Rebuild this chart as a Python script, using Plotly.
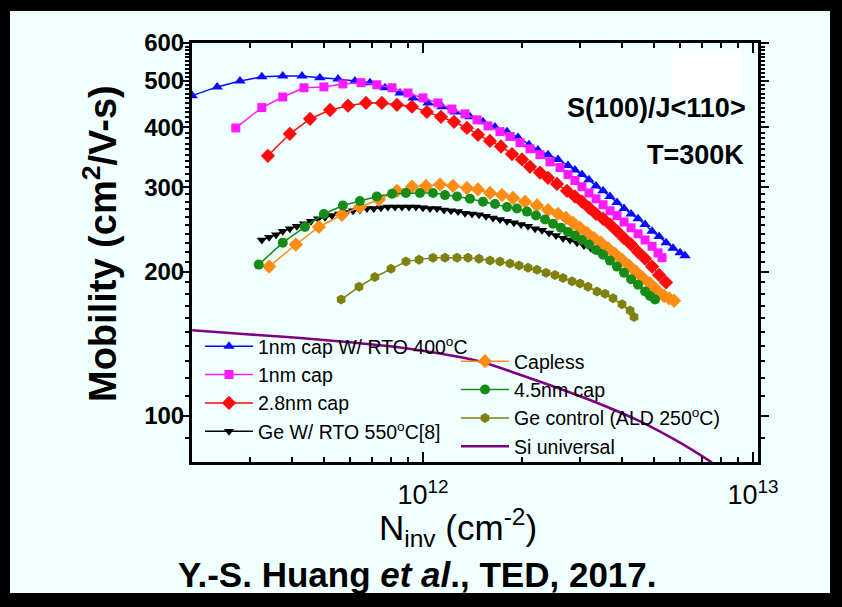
import plotly.graph_objects as go

# Canvas geometry (pixels) and plot-area margins
W, H = 842, 607
L, R, T, B = 192, 84, 43, 145
PW, PH = W - L - R, H - T - B


def px(x):
    """canvas pixel column -> paper x"""
    return (x - L) / PW


def py(y):
    """canvas pixel row -> paper y"""
    return (H - B - y) / PH


FONT = "Liberation Sans, Arial, Helvetica, sans-serif"
BG = "#f0ffff"
E12 = 1e12

# ---- measured mobility curves: N_inv in units of 1e12 cm^-2, mobility in cm^2/V-s ----
rto400_x = [0.200, 0.238, 0.279, 0.325, 0.376, 0.430, 0.487, 0.553, 0.622, 0.691, 0.767, 0.852,
            0.933, 1.036, 1.142, 1.250, 1.388, 1.520, 1.653, 1.797, 1.941, 2.095, 2.230, 2.392,
            2.565, 2.750, 2.887, 3.032, 3.184, 3.344, 3.512, 3.686, 3.871, 4.065, 4.270, 4.483,
            4.708, 4.944, 5.191, 5.451, 5.723, 6.010, 6.222]
rto400_y = [466, 486, 500, 510, 512, 512, 508, 505, 500, 496, 484, 472,
            461, 450, 442, 431, 421, 411, 401, 392, 381, 368, 359, 351,
            343, 333, 326, 319, 311, 302, 295, 287, 279, 271, 264, 258,
            251, 243, 237, 230, 224, 219, 216]

cap1_x = [0.271, 0.325, 0.376, 0.436, 0.501, 0.572, 0.649, 0.725, 0.806, 0.901, 1.000, 1.110,
          1.224, 1.341, 1.458, 1.574, 1.711, 1.835, 1.968, 2.110, 2.262, 2.425, 2.601, 2.750,
          2.887, 3.032, 3.184, 3.344, 3.512, 3.686, 3.871, 4.065, 4.270, 4.483, 4.708, 4.944,
          5.155, 5.300]
cap1_y = [399, 440, 463, 484, 486, 493, 496, 491, 484, 472, 461, 450,
          437, 427, 415, 403, 392, 383, 372, 361, 351, 339, 330, 319,
          310, 301, 292, 284, 276, 268, 262, 254, 247, 240, 233, 226,
          219, 214]

cap28_x = [0.339, 0.395, 0.455, 0.523, 0.593, 0.672, 0.751, 0.834, 0.926, 1.028, 1.134, 1.242,
           1.359, 1.468, 1.596, 1.723, 1.861, 1.995, 2.110, 2.262, 2.392, 2.547, 2.731, 2.887,
           3.032, 3.184, 3.344, 3.512, 3.686, 3.871, 4.065, 4.270, 4.483, 4.708, 4.944, 5.191,
           5.451]
cap28_y = [349, 388, 417, 435, 444, 450, 450, 446, 442, 431, 421, 411,
           399, 386, 375, 365, 352, 343, 331, 322, 314, 305, 295, 287,
           280, 272, 264, 258, 251, 243, 235, 228, 220, 213, 205, 197,
           190]

rto550_x = [0.325, 0.342, 0.359, 0.376, 0.395, 0.415, 0.436, 0.458, 0.481, 0.505,
            0.530, 0.557, 0.584, 0.614, 0.644, 0.677, 0.710, 0.746, 0.783, 0.823,
            0.864, 0.907, 0.952, 1.000, 1.050, 1.103, 1.158, 1.216, 1.277, 1.341,
            1.408, 1.478, 1.552, 1.630, 1.711, 1.797, 1.887, 1.982, 2.081, 2.185,
            2.294, 2.409, 2.529, 2.656, 2.789, 2.929, 3.075, 3.229, 3.391, 3.512]
rto550_y = [233, 236, 239, 243, 246, 249, 252, 255, 258, 260,
            262, 264, 266, 268, 269, 271, 271, 272, 273, 273,
            273, 273, 273, 272, 271, 271, 269, 268, 267, 265,
            264, 263, 261, 259, 257, 255, 253, 251, 249, 246,
            244, 241, 238, 235, 233, 230, 227, 224, 221, 219]

capless_x = [0.342, 0.412, 0.484, 0.568, 0.644, 0.736, 0.834, 0.926, 1.021, 1.126, 1.233, 1.359,
             1.468, 1.596, 1.735, 1.874, 2.038, 2.215, 2.392, 2.565, 2.713, 2.848, 2.991, 3.140,
             3.298, 3.462, 3.636, 3.818, 4.009, 4.209, 4.420, 4.642, 4.875, 5.119, 5.375, 5.567,
             5.763]
capless_y = [205, 228, 248, 263, 273, 283, 295, 301, 302, 304, 302, 299,
             297, 292, 289, 285, 280, 275, 269, 264, 259, 253, 247, 241,
             235, 230, 224, 218, 212, 206, 200, 194, 189, 183, 178, 176,
             174]

cap45_x = [0.318, 0.376, 0.439, 0.501, 0.572, 0.644, 0.725, 0.806, 0.888, 0.979, 1.072, 1.166,
           1.268, 1.388, 1.520, 1.653, 1.797, 1.927, 2.066, 2.200, 2.343, 2.477, 2.619, 2.750,
           2.887, 3.032, 3.184, 3.344, 3.512, 3.686, 3.871, 4.065, 4.270, 4.483, 4.708, 4.875,
           5.047]
cap45_y = [207, 230, 248, 264, 275, 281, 287, 291, 292, 292, 292, 289,
           287, 284, 280, 277, 273, 271, 267, 262, 257, 252, 247, 242,
           238, 233, 228, 222, 217, 211, 205, 199, 193, 188, 182, 178,
           175]

gectrl_x = [0.565, 0.640, 0.715, 0.800, 0.888, 0.973, 1.072, 1.166, 1.268, 1.369, 1.478, 1.596,
            1.711, 1.835, 1.954, 2.081, 2.215, 2.359, 2.512, 2.656, 2.828, 2.991, 3.162, 3.368,
            3.561, 3.765, 4.009, 4.240, 4.360]
gectrl_y = [175, 186, 195, 203, 210, 212, 214, 214, 214, 214, 213, 211,
            210, 208, 206, 204, 202, 199, 197, 194, 191, 189, 186, 182,
            180, 176, 171, 166, 161]

si_x = [0.200, 0.299, 0.424, 0.601, 0.852, 1.126, 1.488, 1.968, 2.601, 3.439, 4.548, 6.010, 7.511]
si_y = [151, 148, 145.5, 142.5, 139, 135, 130, 122, 114, 106, 97.5, 88, 80]

# axis ticks
x_major = [1e12, 1e13]
x_major_text = ["10<sup>12</sup>", "10<sup>13</sup>"]
x_minor = [3e11, 4e11, 5e11, 6e11, 7e11, 8e11, 9e11,
           2e12, 3e12, 4e12, 5e12, 6e12, 7e12, 8e12, 9e12]
y_major = [100, 200, 300, 400, 500, 600]
y_major_text = ["<b>%d</b>" % v for v in y_major]
y_minor = [v for v in range(80, 600, 10) if v % 100]

# name, x, y, colour, symbol, marker size, legend
series = [
    ("1nm cap W/ RTO 400<sup>o</sup>C", rto400_x, rto400_y, "#0a0aff", "triangle-up", 10, "legend"),
    ("1nm cap", cap1_x, cap1_y, "#ff1aff", "square", 9, "legend"),
    ("2.8nm cap", cap28_x, cap28_y, "#ff0a0a", "diamond", 11, "legend"),
    ("Ge W/ RTO 550<sup>o</sup>C[8]", rto550_x, rto550_y, "#000000", "triangle-down", 9, "legend"),
    ("Capless", capless_x, capless_y, "#ff8c14", "diamond", 11, "legend2"),
    ("4.5nm cap", cap45_x, cap45_y, "#168c16", "circle", 10, "legend2"),
    ("Ge control (ALD 250<sup>o</sup>C)", gectrl_x, gectrl_y, "#808010", "hexagon", 10, "legend2"),
]

fig = go.Figure()
for name, xs, ys, col, sym, size, leg in series:
    fig.add_trace(go.Scatter(
        x=[v * E12 for v in xs], y=ys, name=name, mode="lines+markers",
        line=dict(color=col, width=1.5),
        marker=dict(symbol=sym, size=size, color=col, line=dict(width=0)),
        legend=leg, legendgroup=name,
    ))

fig.add_trace(go.Scatter(
    x=[v * E12 for v in si_x], y=si_y, name="Si universal", mode="lines",
    line=dict(color="#800080", width=2.6, shape="spline"),
    legend="legend2", legendgroup="si",
))

axis_common = dict(
    type="log", showgrid=False, zeroline=False, showline=True, linecolor="black",
    linewidth=3, mirror="ticks", tickcolor="black", tickwidth=2,
)

legend_font = dict(family=FONT, size=19.5, color="black")

fig.update_layout(
    width=W, height=H,
    margin=dict(l=L, r=R, t=T, b=B, pad=0),
    paper_bgcolor="black", plot_bgcolor=BG,
    font=dict(family=FONT, color="black"),
    xaxis=dict(
        **axis_common, range=[11.3003, 13.015],
        tickmode="array", tickvals=x_major, ticktext=x_major_text,
        ticks="inside", ticklen=10, ticklabelstandoff=7,
        tickfont=dict(family=FONT, size=27, color="black"),
        minor=dict(tickmode="array", tickvals=x_minor, ticks="inside", ticklen=5,
                   tickwidth=2, tickcolor="black", showgrid=False),
    ),
    yaxis=dict(
        **axis_common, range=[1.9042, 2.7782],
        tickmode="array", tickvals=y_major, ticktext=y_major_text,
        ticks="outside", ticklen=8, ticklabelstandoff=-8,
        tickfont=dict(family=FONT, size=24, color="black"),
        minor=dict(tickmode="array", tickvals=y_minor, ticks="outside", ticklen=4,
                   tickwidth=2, tickcolor="black", showgrid=False),
    ),
    legend=dict(
        x=px(200), y=py(327), xanchor="left", yanchor="top",
        bgcolor="rgba(0,0,0,0)", borderwidth=0, itemwidth=48,
        font=legend_font, tracegroupgap=0, traceorder="normal",
    ),
    legend2=dict(
        x=px(456), y=py(342), xanchor="left", yanchor="top",
        bgcolor="rgba(0,0,0,0)", borderwidth=0, itemwidth=48,
        font=legend_font, tracegroupgap=0, traceorder="normal",
    ),
    showlegend=True,
)

# outer frame: light panel on the black page, plus a small white patch in the plot
fig.add_shape(type="rect", xref="paper", yref="paper", layer="below",
              x0=px(10), x1=px(830), y0=py(593), y1=py(11),
              fillcolor=BG, line=dict(width=0))
fig.add_shape(type="rect", xref="paper", yref="paper", layer="below",
              x0=px(672), x1=px(742), y0=py(97), y1=py(50),
              fillcolor="white", line=dict(width=0))

ann = [
    dict(text="<b>S(100)/J&lt;110&gt;</b>", x=px(656), y=py(108), size=27),
    dict(text="<b>T=300K</b>", x=px(695), y=py(155), size=27),
    dict(text="N<sub>inv</sub> (cm<sup>-2</sup>)", x=px(458), y=py(527), size=35),
    dict(text="<b>Y.-S. Huang <i>et al</i>., TED, 2017.</b>", x=px(417), y=py(574), size=35),
]
for a in ann:
    fig.add_annotation(text=a["text"], x=a["x"], y=a["y"], xref="paper", yref="paper",
                       xanchor="center", yanchor="middle", showarrow=False,
                       font=dict(family=FONT, size=a["size"], color="black"))

fig.add_annotation(text="<b>Mobility (cm<sup>2</sup>/V-s)</b>", x=px(100), y=py(244),
                   xref="paper", yref="paper", xanchor="center", yanchor="middle",
                   textangle=-90, showarrow=False,
                   font=dict(family=FONT, size=38, color="black"))

fig.write_html("out.html")
